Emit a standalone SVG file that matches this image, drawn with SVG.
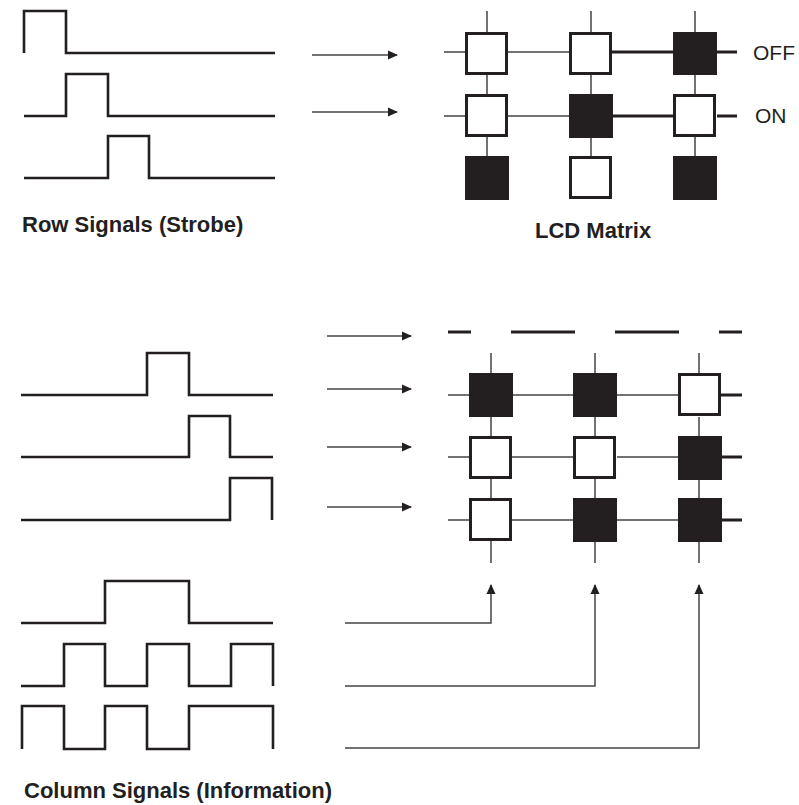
<svg xmlns="http://www.w3.org/2000/svg" width="799" height="805" viewBox="0 0 799 805">
<style>
.wave{fill:none;stroke:#231f20;stroke-width:2.6;stroke-linejoin:miter;stroke-linecap:butt}
.thin{fill:none;stroke:#444;stroke-width:1.5}
.thick{fill:none;stroke:#231f20;stroke-width:3}
.on{fill:#231f20;stroke:#231f20;stroke-width:2}
.off{fill:#fff;stroke:#231f20;stroke-width:3}
.arr{fill:none;stroke:#444;stroke-width:1.5}
.lbl{font-family:"Liberation Sans",Arial,sans-serif;font-weight:bold;font-size:22px;fill:#231f20}
.st{font-family:"Liberation Sans",Arial,sans-serif;font-size:21px;fill:#231f20}
</style>
<defs>
<marker id="ah" viewBox="0 0 10 10" refX="9" refY="5" markerWidth="10" markerHeight="10" markerUnits="userSpaceOnUse" orient="auto">
<path d="M0,0.5 L10,5 L0,9.5 z" fill="#231f20"/>
</marker>
</defs>

<g id="row-signals">
<path class="wave" d="M24,53 V11 H66 V53 H275"/>
<path class="wave" d="M24,116 H66 V74 H108 V116 H275"/>
<path class="wave" d="M24,178 H108 V136 H149 V178 H275"/>
<text class="lbl" x="22" y="232">Row Signals (Strobe)</text>
</g>

<g id="lcd-matrix-top">
<g class="thin">
<path d="M487,11 V32 M487,74 V94 M487,137 V156"/>
<path d="M591,11 V32 M591,74 V94 M591,137 V156"/>
<path d="M695,11 V32 M695,74 V94 M695,137 V156"/>
<path d="M444,52 H465 M508,52 H569"/>
<path d="M444,116 H465 M508,116 H569"/>
</g>
<g class="thick">
<path d="M612,52 H673 M717,52 H737"/>
<path d="M612,116 H673 M717,116 H737"/>
</g>
<rect class="off" x="466.5" y="33.5" width="40" height="40"/>
<rect class="off" x="570.5" y="33.5" width="40" height="40"/>
<rect class="on" x="674" y="33" width="42" height="41"/>
<rect class="off" x="466.5" y="95.5" width="40" height="40"/>
<rect class="on" x="570" y="95" width="42" height="42"/>
<rect class="off" x="674.5" y="95.5" width="40" height="40"/>
<rect class="on" x="466" y="157" width="42" height="42"/>
<rect class="off" x="570.5" y="157.5" width="40" height="40"/>
<rect class="on" x="674" y="157" width="42" height="42"/>
<text class="st" x="753" y="60">OFF</text>
<text class="st" x="755" y="123">ON</text>
<text class="lbl" x="535" y="238">LCD Matrix</text>
</g>

<g id="data-waves">
<path class="wave" d="M21,395 H147 V353 H189 V395 H273"/>
<path class="wave" d="M21,457 H189 V416 H230 V457 H273"/>
<path class="wave" d="M21,520 H230 V478 H272 V520"/>
</g>

<g id="lcd-matrix-bottom">
<g class="thick">
<path d="M448,332 H471 M511,332 H575 M615,332 H679 M719,332 H742"/>
<path d="M721,395 H742 M721,457 H742 M721,520 H742"/>
</g>
<g class="thin">
<path d="M491,353 V373 M491,417 V436 M491,479 V498 M491,541 V563"/>
<path d="M595,353 V373 M595,417 V436 M595,479 V498 M595,541 V563"/>
<path d="M699,353 V373 M699,417 V436 M699,479 V498 M699,541 V563"/>
<path d="M448,395 H469 M512,395 H573 M617,395 H678"/>
<path d="M448,457 H469 M512,457 H573 M617,457 H678"/>
<path d="M448,520 H469 M512,520 H573 M617,520 H678"/>
</g>
<rect class="on" x="470" y="374" width="42" height="42"/>
<rect class="on" x="574" y="374" width="42" height="42"/>
<rect class="off" x="679.5" y="374.5" width="40" height="40"/>
<rect class="off" x="470.5" y="437.5" width="40" height="40"/>
<rect class="off" x="574.5" y="437.5" width="40" height="40"/>
<rect class="on" x="679" y="437" width="42" height="42"/>
<rect class="off" x="470.5" y="499.5" width="40" height="40"/>
<rect class="on" x="574" y="499" width="42" height="42"/>
<rect class="on" x="679" y="499" width="42" height="42"/>
</g>

<g id="column-signals">
<path class="wave" d="M21,623 H105 V581 H189 V623 H273"/>
<path class="wave" d="M21,686 H64 V644 H105 V686 H147 V644 H189 V686 H231 V644 H273 V686"/>
<path class="wave" d="M22,749 V706 H64 V749 H105 V706 H147 V749 H189 V706 H273 V749"/>
<text class="lbl" x="24" y="798">Column Signals (Information)</text>
</g>

<g id="connectors">
<path class="arr" marker-end="url(#ah)" d="M312,55 H397"/>
<path class="arr" marker-end="url(#ah)" d="M312,112 H397"/>
<path class="arr" marker-end="url(#ah)" d="M327,336 H411"/>
<path class="arr" marker-end="url(#ah)" d="M327,389 H411"/>
<path class="arr" marker-end="url(#ah)" d="M327,447 H411"/>
<path class="arr" marker-end="url(#ah)" d="M327,507 H411"/>
<path class="arr" marker-end="url(#ah)" d="M345,623 H491 V585"/>
<path class="arr" marker-end="url(#ah)" d="M345,686 H595 V585"/>
<path class="arr" marker-end="url(#ah)" d="M345,748 H699 V585"/>
</g>
</svg>
